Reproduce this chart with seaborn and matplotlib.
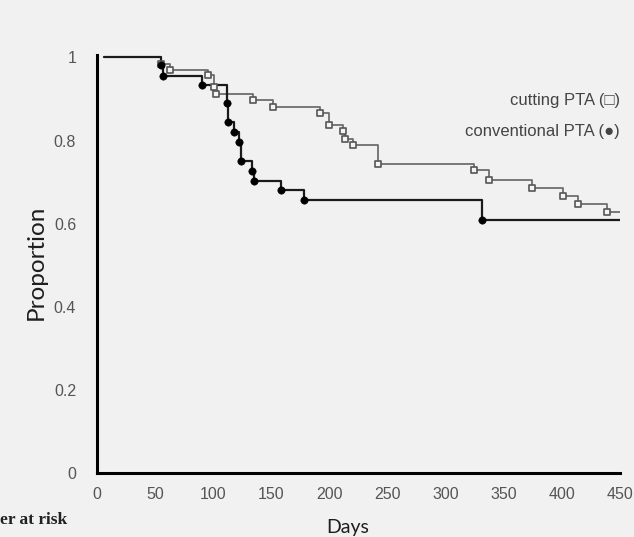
import pandas as pd
import matplotlib
matplotlib.use("Agg")
import matplotlib.pyplot as plt
import seaborn as sns

# Kaplan-Meier style curves
cut_days = [55, 62.8, 95.8, 100.7, 102.4, 134.5, 151.2, 191.9, 199.7, 212, 213.4,
            220, 241.5, 324.5, 337.6, 374, 400.8, 413.4, 438.6]
cut_prop = [0.983, 0.970, 0.958, 0.929, 0.911, 0.897, 0.881, 0.867, 0.837, 0.824, 0.804,
            0.790, 0.744, 0.728, 0.706, 0.687, 0.666, 0.647, 0.628]
conv_days = [55, 56.5, 90.6, 111.6, 113, 118, 122.5, 123.6, 133.6, 135.4, 158, 178.4, 331]
conv_prop = [0.981, 0.955, 0.934, 0.890, 0.845, 0.820, 0.797, 0.750, 0.727, 0.703,
             0.680, 0.658, 0.608]
x_ticks = [0, 50, 100, 150, 200, 250, 300, 350, 400, 450]
y_ticks = [0, 0.2, 0.4, 0.6, 0.8, 1]
y_tick_labels = ['0', '0.2', '0.4', '0.6', '0.8', '1']
start_day = 6
end_day = 450


def step_frame(days, prop):
    # start at 1.0, run on to the end of follow-up
    d = [start_day] + list(days) + [end_day]
    p = [1.0] + list(prop) + [prop[-1]]
    return pd.DataFrame({'Days': d, 'Proportion': p})


cut_df = step_frame(cut_days, cut_prop)
conv_df = step_frame(conv_days, conv_prop)

sns.set_style("white")
bg = '#f1f1f1'

fig = plt.figure(figsize=(6.34, 5.37), dpi=100, facecolor=bg)
ax = fig.add_axes([0.153, 0.119, 0.825, 0.778], facecolor=bg)

sns.lineplot(data=cut_df, x='Days', y='Proportion', ax=ax, estimator=None, sort=False,
             drawstyle='steps-post', color='#6e6e6e', linewidth=1.3)
sns.lineplot(data=conv_df, x='Days', y='Proportion', ax=ax, estimator=None, sort=False,
             drawstyle='steps-post', color='#1a1a1a', linewidth=1.6)
sns.scatterplot(x=cut_days, y=cut_prop, ax=ax, marker='s', s=22, facecolor='#f4f4f4',
                edgecolor='#555555', linewidth=1.2, zorder=3)
sns.scatterplot(x=conv_days, y=conv_prop, ax=ax, marker='o', s=28, color='black',
                edgecolor='black', zorder=4)

ax.set_xlim(0, 450)
ax.set_ylim(0, 1.005)
ax.set_xticks(x_ticks)
ax.set_yticks(y_ticks)
ax.set_yticklabels(y_tick_labels)
for s in ['top', 'right']:
    ax.spines[s].set_visible(False)
for s in ['left', 'bottom']:
    ax.spines[s].set_linewidth(2.2)
    ax.spines[s].set_color('black')
ax.tick_params(axis='both', direction='out', length=3, width=2, color='black',
               labelsize=11.5, labelcolor='#555555')
ax.tick_params(axis='y', pad=12)
ax.tick_params(axis='x', pad=7)
for lab in ax.get_xticklabels() + ax.get_yticklabels():
    lab.set_family(['Liberation Sans', 'DejaVu Sans'])
ax.set_xlabel('')
ax.set_ylabel('')

fig.text(0.057, 0.512, 'Proportion', rotation=90, ha='center', va='center', fontsize=17.5,
         family=['Lato', 'DejaVu Sans'], color='#1e1e1e')
fig.text(0.548, 0.0335, 'Days', ha='center', va='top', fontsize=14,
         family=['Lato', 'DejaVu Sans'], color='#1e1e1e')

fig.text(0.978, 0.813, 'cutting PTA (\u25a1)', ha='right', va='center', fontsize=12,
         family=['Liberation Sans', 'DejaVu Sans'], color='#444444')
fig.text(0.978, 0.756, 'conventional PTA (\u25cf)', ha='right', va='center', fontsize=12,
         family=['Liberation Sans', 'DejaVu Sans'], color='#444444')
fig.text(0.0, 0.032, 'er at risk', ha='left', va='center', fontsize=12.5, fontweight='bold',
         family=['Liberation Serif', 'DejaVu Serif'], color='#222222')

fig.savefig('out.png', dpi=100, facecolor=bg)
